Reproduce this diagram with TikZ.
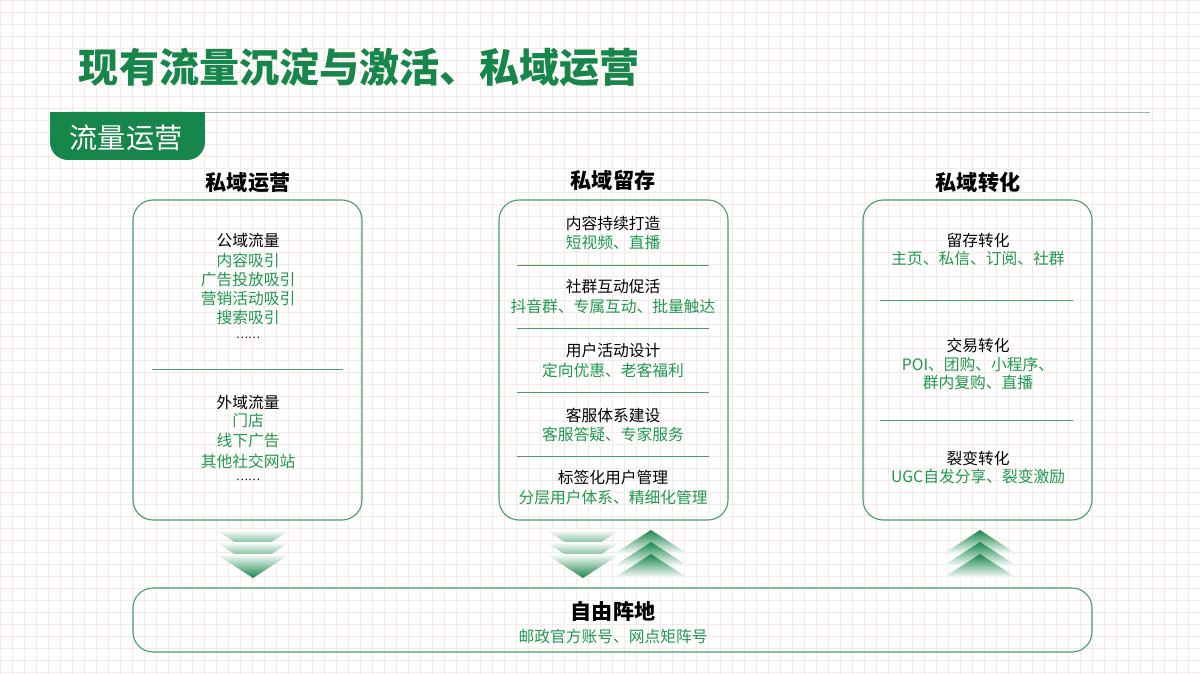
\documentclass[tikz,border=0pt]{standalone}
\usepackage{fontspec}
\setmainfont{Noto Sans CJK SC}
\newfontfamily\cjkb{Noto Sans CJK SC Bold}
\definecolor{gmain}{HTML}{17864A}
\definecolor{gtext}{HTML}{1E9850}
\definecolor{gridc}{HTML}{F6E9E4}
\tikzset{
 box/.style={draw=gmain!80, line width=0.8pt, rounded corners=0.5cm},
 hd/.style={font=\fontsize{15}{16}\cjkb\bfseries, text=black},
 blk/.style={font=\fontsize{11.2}{12}\selectfont, text=black, inner sep=1pt},
 grn/.style={font=\fontsize{11.2}{12}\selectfont, text=gtext, inner sep=1pt},
 dots/.style={font=\fontsize{8}{9}\selectfont, text=black, inner sep=0pt},
 sep/.style={draw=gmain!80, line width=0.6pt},
}
\newcommand{\dnchev}[2]{% cx, top y
 \foreach \k in {0,1,2}{
  \shade[top color=white, bottom color=gmain] ({#1-37},{#2+\k*12}) -- ({#1+37},{#2+\k*12}) -- (#1,{#2+\k*12+24}) -- cycle;}}
\newcommand{\upchev}[2]{%
 \foreach \k in {0,1,2}{
  \shade[bottom color=white, top color=gmain] ({#1-37},{#2+24+\k*12}) -- ({#1+37},{#2+24+\k*12}) -- (#1,{#2+\k*12}) -- cycle;}}
\begin{document}
\begin{tikzpicture}[x=0.025cm,y=-0.025cm]
\useasboundingbox (0,0) rectangle (1200,675);
\fill[white] (0,0) rectangle (1200,675);
\draw[gridc, line width=0.3pt, step=0.3cm] (0,0) grid (1200,675);
% title
\node[anchor=west, font=\fontsize{28.5}{32}\cjkb\bfseries, text=gmain] (title) at (74,67) {现有流量沉淀与激活、私域运营};
\draw[gmain!40!gray!60, line width=0.6pt] (205,112) -- (1150,112);
\fill[gmain, rounded corners=0.45cm] (50,112) -- (50,160) -- (205,160) -- (205,112) -- cycle;
\fill[gmain] (50,112) rectangle (205,130);
\node[text=white, font=\fontsize{20}{24}\selectfont] (tab) at (126,138) {流量运营};
% headings
\node[hd] (h1) at (248,183) {私域运营};
\node[hd] (h2) at (613,180) {私域留存};
\node[hd] (h3) at (978,183) {私域转化};
% boxes
\draw[box] (133,200) rectangle (362,520);
\draw[box] (499,200) rectangle (728,520);
\draw[box] (863,200) rectangle (1092,520);
\draw[box] (133,588) rectangle (1092,652);
% left content
\node[blk] (l1) at (248,241) {公域流量};
\node[grn] at (248,260) {内容吸引};
\node[grn] at (248,280) {广告投放吸引};
\node[grn] at (248,299) {营销活动吸引};
\node[grn] at (248,318) {搜索吸引};
\node[dots] at (248,338) {……};
\draw[sep] (152,369) -- (343,369);
\node[blk] at (248,402) {外域流量};
\node[grn] at (248,421) {门店};
\node[grn] at (248,441) {线下广告};
\node[grn] at (248,461) {其他社交网站};
\node[dots] at (248,480) {……};
% middle content
\node[blk] at (613,223) {内容持续打造};
\node[grn] at (613,243) {短视频、直播};
\draw[sep] (517,265) -- (709,265);
\node[blk] at (613,287) {社群互动促活};
\node[grn] at (613,306) {抖音群、专属互动、批量触达};
\draw[sep] (517,328) -- (709,328);
\node[blk] at (613,351) {用户活动设计};
\node[grn] at (613,370) {定向优惠、老客福利};
\draw[sep] (517,392) -- (709,392);
\node[blk] at (613,415) {客服体系建设};
\node[grn] at (613,434) {客服答疑、专家服务};
\draw[sep] (517,456) -- (709,456);
\node[blk] at (613,478) {标签化用户管理};
\node[grn] at (613,498) {分层用户体系、精细化管理};
% right content
\node[blk] at (978,241) {留存转化};
\node[grn] at (978,259) {主页、私信、订阅、社群};
\draw[sep] (880,300) -- (1073,300);
\node[blk] at (978,345) {交易转化};
\node[grn] at (978,364) {POI、团购、小程序、};
\node[grn] at (978,383) {群内复购、直播};
\draw[sep] (880,420) -- (1073,420);
\node[blk] at (978,458) {裂变转化};
\node[grn] at (978,476) {UGC自发分享、裂变激励};
% bottom
\node[hd] (b1) at (613,611) {自由阵地};
\node[grn] at (613,636) {邮政官方账号、网点矩阵号};
% chevrons
\dnchev{253}{530}
\dnchev{583}{530}
\upchev{651}{530}
\upchev{980}{530}
\end{tikzpicture}
\end{document}
